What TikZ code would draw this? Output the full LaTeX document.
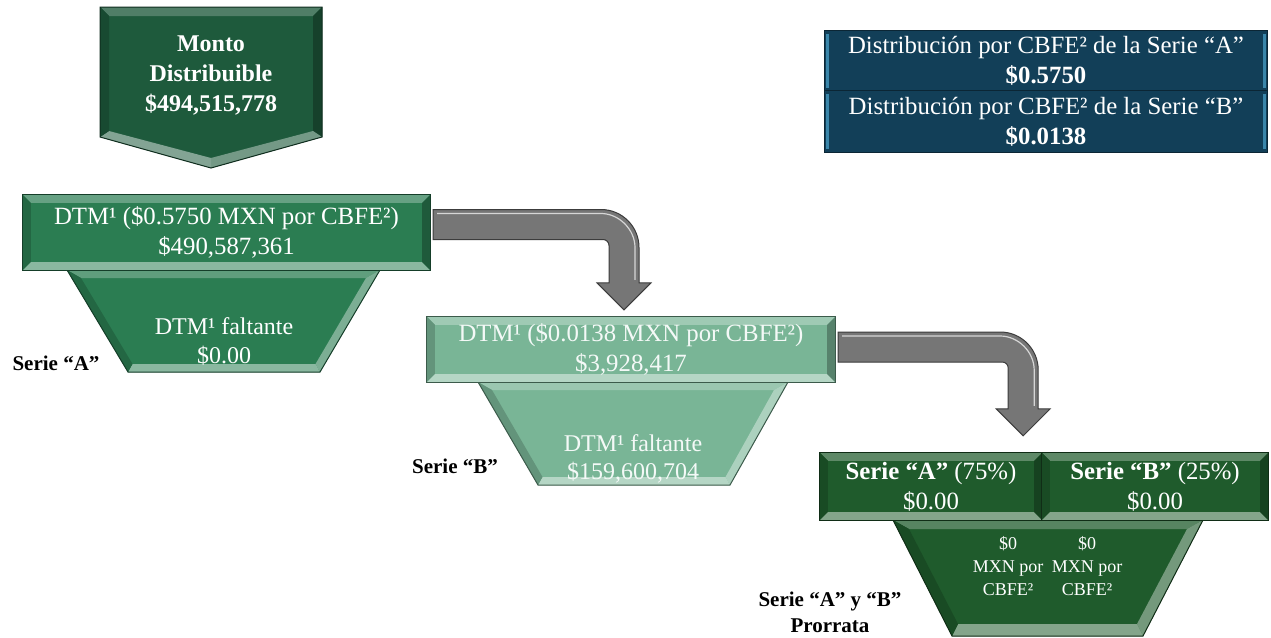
\documentclass[tikz,border=0pt]{standalone}
\usepackage{fontspec}
\setmainfont{Liberation Serif}
\usetikzlibrary{calc,backgrounds}
\definecolor{gmonto}{HTML}{1E5A3C}
\definecolor{gone}{HTML}{2B7D52}
\definecolor{gtwo}{HTML}{79B596}
\definecolor{gthree}{HTML}{1F5B2C}
\definecolor{navy}{HTML}{123F58}
\definecolor{navyedge}{HTML}{3A86AA}
\definecolor{arrowfill}{HTML}{767676}
\definecolor{arrowline}{HTML}{3C3C3C}
% bevelled rectangle behind a named node: #1 node, #2 colour, #3 inset
\newcommand{\bvrect}[3]{%
  \fill[#2] (#1.north west) rectangle (#1.south east);
  \fill[#2!72!white] (#1.north west) -- (#1.north east) -- ($(#1.north east)+(-#3,#3)$) -- ($(#1.north west)+(#3,#3)$) -- cycle;
  \fill[#2!82!black] (#1.north west) -- ($(#1.north west)+(#3,#3)$) -- ($(#1.south west)+(#3,-#3)$) -- (#1.south west) -- cycle;
  \fill[#2!55!white] (#1.south west) -- ($(#1.south west)+(#3,-#3)$) -- ($(#1.south east)+(-#3,-#3)$) -- (#1.south east) -- cycle;
  \fill[#2!72!black] (#1.north east) -- (#1.south east) -- ($(#1.south east)+(-#3,-#3)$) -- ($(#1.north east)+(-#3,#3)$) -- cycle;
  \draw[#2!50!black, line width=1] (#1.north west) rectangle (#1.south east);
}
% bevelled trapezoid from named coordinates #1a..#1d and #1ai..#1di
\newcommand{\bvtrap}[2]{%
  \fill[#2] (#1a) -- (#1b) -- (#1c) -- (#1d) -- cycle;
  \fill[#2!75!white] (#1a) -- (#1b) -- (#1bi) -- (#1ai) -- cycle;
  \fill[#2!62!white] (#1b) -- (#1c) -- (#1ci) -- (#1bi) -- cycle;
  \fill[#2!55!white] (#1c) -- (#1d) -- (#1di) -- (#1ci) -- cycle;
  \fill[#2!82!black] (#1d) -- (#1a) -- (#1ai) -- (#1di) -- cycle;
  \draw[#2!50!black, line width=1] (#1a) -- (#1b) -- (#1c) -- (#1d) -- cycle;
}
% bent block arrow from shaft start #1 to tip #2
\newcommand{\bentarrow}[2]{%
  \filldraw[fill=arrowfill, draw=arrowline, line width=1] let \p1=(#1), \p2=(#2) in
    (\x1,{\y1+15pt}) -- ({\x2-23pt},{\y1+15pt})
    .. controls ({\x2-2pt},{\y1+15pt}) and ({\x2+15pt},{\y1-2pt}) .. ({\x2+15pt},{\y1-23pt})
    -- ({\x2+15pt},{\y2+27pt}) -- ({\x2+27pt},{\y2+27pt}) -- (\x2,\y2)
    -- ({\x2-27pt},{\y2+27pt}) -- ({\x2-15pt},{\y2+27pt}) -- ({\x2-15pt},{\y1-21pt})
    .. controls ({\x2-15pt},{\y1-17.7pt}) and ({\x2-17.7pt},{\y1-15pt}) .. ({\x2-21pt},{\y1-15pt})
    -- (\x1,{\y1-15pt}) -- cycle;
  \draw[white!70!arrowfill, line width=1.2] let \p1=(#1), \p2=(#2) in
    ({\x1+4pt},{\y1+11pt}) -- ({\x2-23pt},{\y1+11pt})
    .. controls ({\x2-5pt},{\y1+11pt}) and ({\x2+11pt},{\y1-5pt}) .. ({\x2+11pt},{\y1-23pt})
    -- ({\x2+11pt},{\y2+30pt});
}
\begin{document}
\begin{tikzpicture}[x=1pt,y=-1pt,
  lbl/.style={font=\fontsize{24.8}{30}\selectfont, text=white, align=center, inner sep=0pt},
  tag/.style={font=\fontsize{21}{26}\selectfont\bfseries, text=black, align=center, inner sep=0pt}]
\useasboundingbox (0,0) rectangle (1271,637);

% top-left pentagon text
\node[lbl, font=\fontsize{24}{30}\selectfont\bfseries] (mt) at (211,75) {Monto\\Distribuible\\\$494,515,778};

% top-right legend
\node[lbl, minimum width=442, minimum height=60] (sa) at (1046,61) {Distribución por CBFE² de la Serie “A”\\\textbf{\$0.5750}};
\node[lbl, minimum width=442, minimum height=61] (sb) at (1046,121.5) {Distribución por CBFE² de la Serie “B”\\\textbf{\$0.0138}};

% stage boxes
\node[lbl, minimum width=407, minimum height=75] (b1) at (226.5,232.5) {DTM¹ (\$0.5750 MXN por CBFE²)\\\$490,587,361};
\node[lbl, text=white!92!gtwo, minimum width=408, minimum height=65] (b2) at (631,349.5) {DTM¹ (\$0.0138 MXN por CBFE²)\\\$3,928,417};
\node[lbl, minimum width=222, minimum height=67] (s3a) at (931,486.5) {\textbf{Serie “A”} (75\%)\\\$0.00};
\node[lbl, minimum width=226, minimum height=67] (s3b) at (1155,486.5) {\textbf{Serie “B”} (25\%)\\\$0.00};

% trapezoid texts
\node[lbl, font=\fontsize{24}{29}\selectfont] (t1t) at (224,341) {DTM¹ faltante\\\$0.00};
\node[lbl, text=white!92!gtwo, font=\fontsize{24}{28}\selectfont] (t2t) at (633,459) {DTM¹ faltante\\\$159,600,704};
\node[lbl, font=\fontsize{18}{23}\selectfont] (p3a) at (1008,566) {\$0\\MXN por\\CBFE²};
\node[lbl, font=\fontsize{18}{23}\selectfont] (p3b) at (1087,566) {\$0\\MXN por\\CBFE²};

% side labels
\node[tag] (la) at (56,363) {Serie “A”};
\node[tag] (lb) at (455,466) {Serie “B”};
\node[tag] (lab) at (830,612) {Serie “A” y “B”\\Prorrata};

% geometry
\coordinate (t1a) at (67,270);   \coordinate (t1b) at (380,270);
\coordinate (t1c) at (320,372);  \coordinate (t1d) at (128,372);
\coordinate (t1ai) at (81,278);  \coordinate (t1bi) at (366,278);
\coordinate (t1ci) at (315.5,364); \coordinate (t1di) at (132.5,364);
\coordinate (t2a) at (478,382);  \coordinate (t2b) at (788,382);
\coordinate (t2c) at (730,485);  \coordinate (t2d) at (538,485);
\coordinate (t2ai) at (492,390); \coordinate (t2bi) at (774,390);
\coordinate (t2ci) at (725.5,477); \coordinate (t2di) at (542.5,477);
\coordinate (t3a) at (893,520);  \coordinate (t3b) at (1203,520);
\coordinate (t3c) at (1143,636); \coordinate (t3d) at (952,636);
\coordinate (t3ai) at (909,529); \coordinate (t3bi) at (1187,529);
\coordinate (t3ci) at (1137,624); \coordinate (t3di) at (958,624);
\coordinate (a1s) at ($(b1.east)+(3,-8)$);
\coordinate (a1t) at ($(b2.north)+(-7,-7)$);
\coordinate (a2s) at ($(b2.east)+(3,-2.5)$);
\coordinate (a2t) at ($(s3a.north east)+(-19,-17)$);

\begin{scope}[on background layer]
  \fill[white] (0,0) rectangle (1271,637);
  % pentagon
  \fill[gmonto] (100,7) -- (322,7) -- (322,137) -- (211,168) -- (100,137) -- cycle;
  \fill[gmonto!78!white] (100,7) -- (322,7) -- (313,16) -- (109,16) -- cycle;
  \fill[gmonto!72!black] (322,7) -- (322,137) -- (313,131) -- (313,16) -- cycle;
  \fill[gmonto!62!white] (322,137) -- (211,168) -- (211,158) -- (313,131) -- cycle;
  \fill[gmonto!55!white] (211,168) -- (100,137) -- (109,131) -- (211,158) -- cycle;
  \fill[gmonto!82!black] (100,137) -- (100,7) -- (109,16) -- (109,131) -- cycle;
  \draw[gmonto!50!black, line width=1] (100,7) -- (322,7) -- (322,137) -- (211,168) -- (100,137) -- cycle;
  % legend boxes
  \foreach \n in {sa,sb}{
    \fill[navy] (\n.north west) rectangle (\n.south east);
    \draw[navyedge, line width=3] ($(\n.north west)+(2.5,3)$) -- ($(\n.south west)+(2.5,-3)$);
    \draw[navyedge, line width=3] ($(\n.north east)+(-2.5,3)$) -- ($(\n.south east)+(-2.5,-3)$);
    \draw[navy!60!black, line width=1] (\n.north west) rectangle (\n.south east);
  }
  % trapezoids, then boxes above them
  \bvtrap{t1}{gone}
  \bvtrap{t2}{gtwo}
  \bvtrap{t3}{gthree}
  \bvrect{b1}{gone}{8}
  \bvrect{b2}{gtwo}{8}
  \bvrect{s3a}{gthree}{8}
  \bvrect{s3b}{gthree}{8}
  % arrows
  \bentarrow{a1s}{a1t}
  \bentarrow{a2s}{a2t}
\end{scope}
\end{tikzpicture}
\end{document}
